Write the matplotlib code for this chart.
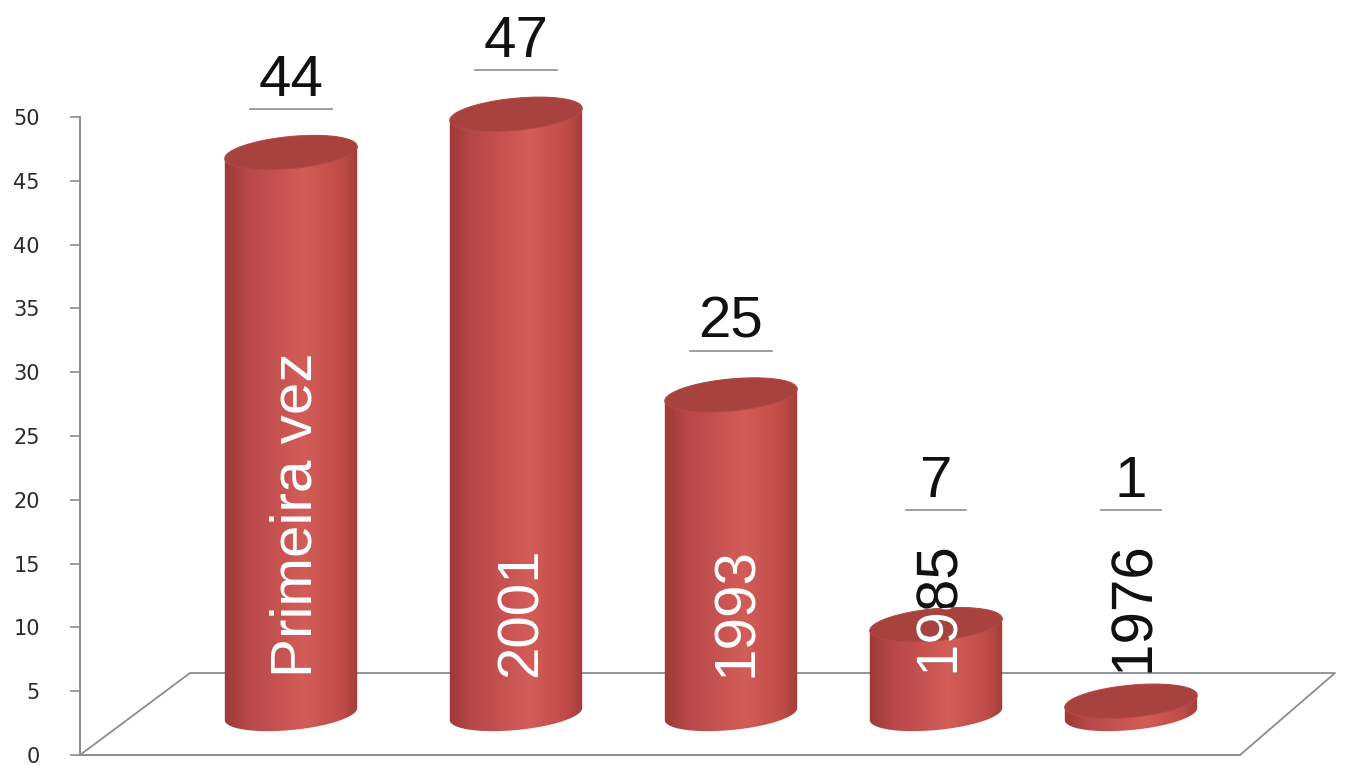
import numpy as np
import matplotlib.pyplot as plt
import matplotlib.patheffects as pe
from matplotlib.patches import Polygon
from matplotlib.colors import LinearSegmentedColormap
from matplotlib.font_manager import FontProperties

categories = ["Primeira vez", "2001", "1993", "1985", "1976"]
values = [44, 47, 25, 7, 1]
yticks = [0, 5, 10, 15, 20, 25, 30, 35, 40, 45, 50]

W, H = 1352, 765
fig = plt.figure(figsize=(W / 100, H / 100), dpi=100)
ax = fig.add_axes([80 / W, 10 / H, 1160 / W, 755 / H])

px = 638 / 50  # pixels per unit on the value axis
base = 41 / px  # cylinders stand in the middle of the floor
fs = 42
font = FontProperties(family="Liberation Sans")

cmap = LinearSegmentedColormap.from_list(
    "cyl", [(0, "#9c3936"), (0.18, "#b8474a"), (0.6, "#d35d58"), (0.88, "#bf4b47"), (1, "#a03d3a")])


def ellipse(cx, cy, t0=0, t1=2 * np.pi, a=66.5, b=16, ang=5.5):
    t = np.linspace(t0, t1, 120)
    x = a * np.cos(t)
    y = b * np.sin(t)
    r = np.radians(ang)
    xr = x * np.cos(r) - y * np.sin(r)
    yr = x * np.sin(r) + y * np.cos(r)
    return np.column_stack([cx + xr, cy + yr / px])


# floor of the 3d box
ax.plot([0, 110, 1255, 1160], [0, 82 / px, 82 / px, 0], color="#8c8c8c", lw=1.3,
        clip_on=False, zorder=1)

grad = np.linspace(0, 1, 256).reshape(1, -1)
for i, (cat, v) in enumerate(zip(categories, values)):
    cx = 211 + 230 * i - 5 * i ** 2
    top = base + v
    body = np.vstack([ellipse(cx, base, np.pi, 2 * np.pi), ellipse(cx, top, 0, np.pi)])
    shape = Polygon(body, closed=True, facecolor="none", edgecolor="none", zorder=2)
    ax.add_patch(shape)
    im = ax.imshow(grad, cmap=cmap, extent=[cx - 68, cx + 68, base - 3, top + 3],
                   aspect="auto", zorder=2, interpolation="bilinear")
    im.set_clip_path(shape)
    ax.add_patch(Polygon(ellipse(cx, top), closed=True, facecolor="#a8423f",
                         edgecolor="#b44a46", lw=0.8, zorder=3))

    # value label with its little line
    yl = max(v + 44 / px + base, 19.2)
    w = 38 + 22 * len(str(v))
    ax.plot([cx - w / 2, cx + w / 2], [yl, yl], color="#8c8c8c", lw=1.2, clip_on=False, zorder=4)
    ax.text(cx, yl + 13 / px, str(v), ha="center", va="baseline", fontsize=fs,
            fontproperties=font, color="#111111", zorder=4)

    # category label, white where it sits on the cylinder
    lx = cx + 21
    ly = 78 / px
    inside = top > ly + 12
    if inside:
        ax.text(lx, ly, cat, rotation=90, rotation_mode="anchor", ha="left", va="baseline",
                fontsize=fs, fontproperties=font, color="white", zorder=5)
    else:
        # drawn as paths so the white copy can be clipped to the cylinder
        ax.text(lx, ly, cat, rotation=90, rotation_mode="anchor", ha="left", va="baseline",
                fontsize=fs, fontproperties=font, color="#111111", zorder=5,
                path_effects=[pe.Normal()])
        t = ax.text(lx, ly, cat, rotation=90, rotation_mode="anchor", ha="left", va="baseline",
                    fontsize=fs, fontproperties=font, color="white", zorder=6,
                    path_effects=[pe.Normal()], clip_on=True)
        t.set_clip_path(shape)

ax.set_xlim(0, 1160)
ax.set_ylim(0, 755 / px)
ax.set_yticks(yticks)
ax.set_xticks([])
ax.tick_params(axis="y", length=7, width=1.2, color="#8c8c8c", pad=22,
               labelsize=15, labelcolor="#2a2a2a")
for s in ["top", "right"]:
    ax.spines[s].set_visible(False)
for s in ["left", "bottom"]:
    ax.spines[s].set_color("#8c8c8c")
    ax.spines[s].set_linewidth(1.4)
ax.spines["left"].set_bounds(0, 50)
ax.patch.set_alpha(0)

fig.savefig("out.png", dpi=100)
